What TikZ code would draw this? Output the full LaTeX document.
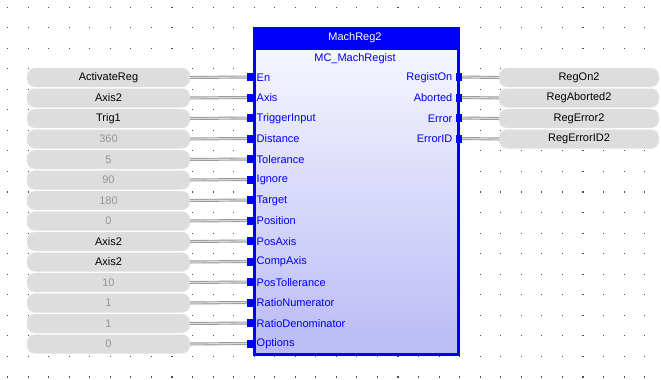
\documentclass[tikz,border=0pt]{standalone}
\usepackage{fontspec}
\setmainfont{Liberation Sans}
\usetikzlibrary{positioning,calc}
\definecolor{boxgray}{RGB}{221,221,221}
\definecolor{constgray}{RGB}{150,150,150}
\definecolor{fbblue}{RGB}{0,0,250}
\definecolor{fblight}{RGB}{250,250,255}
\definecolor{fbdark}{RGB}{186,186,246}

\begin{document}
\begin{tikzpicture}[x=1pt,y=-1pt,
  font=\fontsize{11}{13}\selectfont,
  varbox/.style={draw=boxgray!60!white,fill=boxgray,rounded corners=8pt,
    minimum width=163pt,minimum height=19pt,inner sep=0pt},
  pinbox/.style={fill=fbblue,minimum width=6pt,minimum height=8pt,inner sep=0pt},
  pinlabel/.style={text=fbblue,inner sep=1pt},
  wire/.style={draw=gray!80,double=gray!30,double distance=1.2pt,line width=0.9pt}]
  \useasboundingbox (0,0) rectangle (661,380);
  % grid of dots
  \foreach \i in {0,...,31}
    \foreach \j in {0,...,18}
      \fill[black!70] (7+20.55*\i,6.5+20.55*\j) rectangle ++(1.1,1.1);
  % function block
  \node[draw=fbblue,line width=2pt,minimum width=203pt,minimum height=325pt,
    top color=fblight,bottom color=fbdark,anchor=north west,inner sep=0pt] (mreg) at (254,28) {};
  \fill[fbblue] (mreg.north west) rectangle ($(mreg.north east)+(0,22)$);
  \draw[fbblue,line width=2pt] (mreg.north west) rectangle (mreg.south east);
  \node[text=white] (title) at (355,38) {MachReg2};
  \node[text=fbblue] (ftype) at (355,58.5) {MC\_MachRegist};
  % inputs
  \foreach \val/\pname/\col [count=\k from 0] in {ActivateReg/En/black,Axis2/Axis/black,
      Trig1/TriggerInput/black,360/Distance/constgray,5/Tolerance/constgray,
      90/Ignore/constgray,180/Target/constgray,0/Position/constgray,
      Axis2/PosAxis/black,Axis2/CompAxis/black,10/PosTollerance/constgray,
      1/RatioNumerator/constgray,1/RatioDenominator/constgray,0/Options/constgray}{
    \node[varbox,text=\col] (in\k) at (108.5,77.5+20.5*\k) {\val};
    \node[pinbox] (ip\k) at (250,77+20.5*\k) {};
    \node[pinlabel,anchor=west] (il\k) at (255.5,77.5+20.5*\k) {\pname};
    \draw[wire] (in\k.east) -- (ip\k.west);
  }
  % outputs
  \foreach \pname/\val [count=\k from 0] in {RegistOn/RegOn2,Aborted/RegAborted2,
      Error/RegError2,ErrorID/RegErrorID2}{
    \node[varbox,minimum width=160pt] (out\k) at (579,77.5+20.5*\k) {\val};
    \node[pinbox] (op\k) at (459,77+20.5*\k) {};
    \node[pinlabel,anchor=east] (ol\k) at (453.5,77.5+20.5*\k) {\pname};
    \draw[wire] (op\k.east) -- (out\k.west);
  }
\end{tikzpicture}
\end{document}
